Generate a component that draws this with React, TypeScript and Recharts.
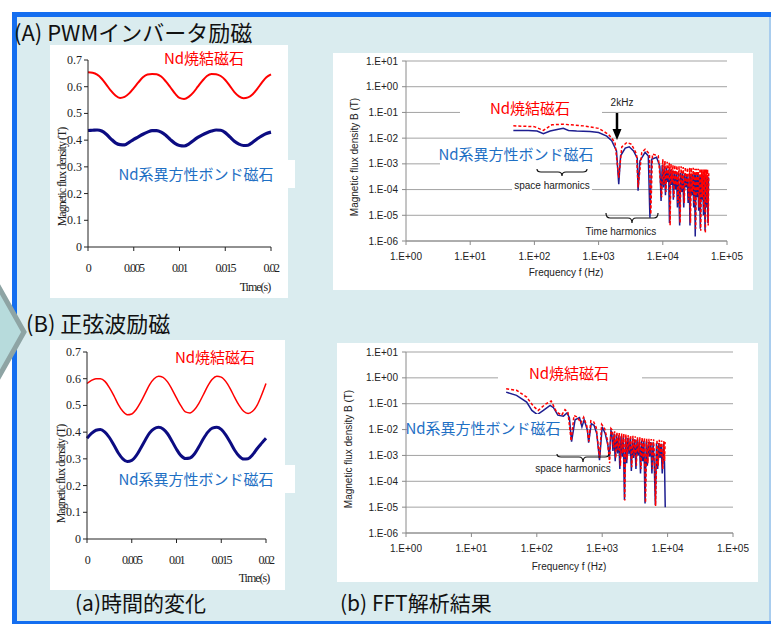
import React from 'react';
import { LineChart, Line, XAxis, YAxis, CartesianGrid } from 'recharts';

// ---- (a) time waveforms, sampled every 0.5 ms ----
const sampleTimes = [
  0, 0.0005, 0.001, 0.0015, 0.002, 0.0025, 0.003, 0.0035, 0.004, 0.0045,
  0.005, 0.0055, 0.006, 0.0065, 0.007, 0.0075, 0.008, 0.0085, 0.009, 0.0095,
  0.01, 0.0105, 0.011, 0.0115, 0.012, 0.0125, 0.013, 0.0135, 0.014, 0.0145,
  0.015, 0.0155, 0.016, 0.0165, 0.017, 0.0175, 0.018, 0.0185, 0.019, 0.0195, 0.02,
];

// PWM inverter excitation (T)
const pwmSintered = [
  0.654, 0.652, 0.645, 0.63, 0.608, 0.585, 0.567, 0.558, 0.562, 0.575,
  0.595, 0.616, 0.635, 0.646, 0.648, 0.647, 0.638, 0.62, 0.598, 0.575,
  0.558, 0.554, 0.562, 0.578, 0.6, 0.622, 0.64, 0.648, 0.647, 0.64,
  0.625, 0.603, 0.58, 0.564, 0.557, 0.56, 0.572, 0.592, 0.615, 0.635, 0.646,
];
const pwmBond = [
  0.436, 0.437, 0.438, 0.434, 0.422, 0.405, 0.39, 0.383, 0.382, 0.392,
  0.403, 0.412, 0.422, 0.43, 0.436, 0.436, 0.43, 0.418, 0.402, 0.388,
  0.38, 0.378, 0.385, 0.398, 0.41, 0.42, 0.428, 0.434, 0.438, 0.437,
  0.428, 0.412, 0.396, 0.385, 0.38, 0.381, 0.392, 0.405, 0.416, 0.425, 0.43,
];

// sine-wave excitation (T)
const sineSintered = [
  0.582, 0.594, 0.6, 0.6, 0.59, 0.567, 0.537, 0.503, 0.478, 0.465,
  0.468, 0.485, 0.512, 0.545, 0.578, 0.6, 0.609, 0.605, 0.588, 0.56,
  0.528, 0.498, 0.476, 0.472, 0.484, 0.508, 0.54, 0.573, 0.598, 0.609,
  0.606, 0.59, 0.563, 0.53, 0.5, 0.478, 0.47, 0.478, 0.5, 0.538, 0.582,
];
const sineBond = [
  0.377, 0.395, 0.407, 0.41, 0.4, 0.38, 0.352, 0.322, 0.3, 0.29,
  0.294, 0.312, 0.34, 0.37, 0.397, 0.413, 0.418, 0.412, 0.394, 0.366,
  0.336, 0.312, 0.301, 0.303, 0.318, 0.345, 0.375, 0.4, 0.415, 0.418,
  0.41, 0.39, 0.362, 0.332, 0.31, 0.299, 0.3, 0.315, 0.338, 0.358, 0.377,
];

// ---- (b) FFT spectra: [frequency Hz, B in T] ----
const pwmBondSpectrum = [
  [47, 0.02], [80, 0.02], [110, 0.019], [138, 0.015], [176, 0.019], [236, 0.022], [282, 0.024],
  [340, 0.02], [455, 0.019], [735, 0.018], [1000, 0.0166], [1340, 0.012], [1600, 0.0079],
  [1900, 0.0032], [2060, 1.6e-4], [2200, 2.05e-3], [2600, 4.1e-3], [3000, 4.6e-3], [3500, 3.2e-3],
  [4000, 1.65e-3], [4120, 9e-5], [4400, 1.3e-3], [5300, 2.8e-3], [5950, 2.0e-3], [6300, 8e-6],
  [6700, 1.5e-3], [8000, 1.8e-3], [9000, 8e-4], [9400, 3.6e-5],
  [9800, 9e-4], [10200, 1.2e-4], [10600, 8e-4], [11000, 6e-5], [11400, 7e-4], [11900, 2e-4],
  [12300, 6e-4], [12700, 5e-6], [13100, 6e-4], [13600, 1.5e-4], [14100, 5.5e-4], [14600, 4e-5],
  [15100, 5e-4], [15700, 1e-4], [16300, 5e-4], [16900, 2e-5], [17500, 4.5e-4], [18300, 4e-6],
  [19000, 4.5e-4], [19700, 8e-5], [20400, 4.5e-4], [21200, 2e-5], [22000, 4.2e-4], [22900, 1.2e-4],
  [23800, 4e-4], [24800, 3e-5], [25800, 4e-4], [26500, 4e-6], [27300, 4e-4], [28300, 6e-5],
  [29300, 4e-4], [30300, 2e-5], [31200, 4e-4], [32000, 1.5e-6], [32900, 4e-4], [34000, 5e-5],
  [35100, 3.8e-4], [36200, 1.5e-5], [37300, 3.8e-4], [38300, 3e-6], [39400, 3.8e-4], [40600, 4e-5],
  [41800, 3.8e-4], [43000, 1e-5], [44200, 3.6e-4], [45500, 2.5e-6], [46800, 3.6e-4], [48000, 2e-5],
  [49300, 3.5e-4], [50500, 5e-6], [51500, 3e-4],
];
const pwmSinteredSpectrum = [
  [47, 0.03], [100, 0.028], [138, 0.02], [187, 0.033], [282, 0.035], [580, 0.03], [1000, 0.024],
  [1430, 0.014], [1800, 0.0068], [2060, 2.9e-4], [2300, 4.6e-3], [2750, 6.8e-3], [3250, 5.8e-3],
  [3900, 2.4e-3], [4120, 1.2e-4], [4700, 2.8e-3], [5300, 3.7e-3], [6200, 2.4e-3], [6500, 1.1e-5],
  [6900, 2.4e-3], [8500, 2.05e-3], [9600, 5e-5],
  [10000, 1.5e-3], [10400, 1.5e-4], [10800, 1.3e-3], [11200, 8e-5], [11700, 1.2e-3], [12100, 2.5e-4],
  [12600, 1.1e-3], [13000, 4e-6], [13400, 1e-3], [13900, 2e-4], [14400, 9e-4], [14900, 5e-5],
  [15400, 9e-4], [16000, 1.5e-4], [16600, 8.5e-4], [17200, 3e-5], [17900, 8e-4], [18600, 5e-6],
  [19300, 8e-4], [20000, 1e-4], [20800, 7.5e-4], [21600, 3e-5], [22400, 7.5e-4], [23300, 1.5e-4],
  [24300, 7e-4], [25300, 4e-5], [26200, 7e-4], [27000, 5e-6], [27800, 7e-4], [28800, 8e-5],
  [29800, 7e-4], [30800, 3e-5], [31700, 6.5e-4], [32500, 3e-6], [33500, 6.5e-4], [34600, 7e-5],
  [35700, 6.5e-4], [36800, 2e-5], [37900, 6.5e-4], [39000, 2.5e-6], [40100, 6e-4], [41300, 5e-5],
  [42500, 6e-4], [43700, 1.5e-5], [44900, 6e-4], [46000, 2e-6], [47300, 6e-4], [48600, 3e-5],
  [49800, 6e-4], [51000, 4e-6], [52000, 5e-4],
];
const sineBondSpectrum = [
  [34, 0.28], [49, 0.21], [70, 0.116], [84, 0.055], [102, 0.038], [126, 0.055], [160, 0.086],
  [180, 0.07], [210, 0.036], [255, 0.033], [290, 0.044], [315, 0.029], [340, 3.4e-3], [385, 0.024],
  [450, 0.029], [490, 0.0127], [530, 0.024], [595, 9.4e-3], [620, 3.1e-3], [680, 0.017],
  [750, 0.0147], [825, 7.1e-3], [910, 6.6e-4], [1000, 0.0128], [1110, 7.1e-3], [1220, 2.5e-3],
  [1290, 9e-4], [1360, 9e-3],
  [1400, 8e-3], [1460, 1.5e-3], [1520, 7e-3], [1580, 6e-4], [1650, 6.5e-3], [1720, 1.2e-3],
  [1790, 6e-3], [1860, 3e-4], [1940, 5.5e-3], [2020, 9e-4], [2100, 5.5e-3], [2190, 1.9e-5],
  [2280, 5e-3], [2370, 5e-4], [2470, 4.8e-3], [2570, 1.1e-3], [2680, 4.5e-3], [2790, 2.5e-4],
  [2900, 4.5e-3], [3020, 8e-4], [3150, 4.2e-3], [3280, 3e-4], [3410, 4e-3], [3550, 1e-3],
  [3700, 4e-3], [3850, 2e-4], [4010, 3.8e-3], [4170, 6e-4], [4340, 3.6e-3], [4520, 1.4e-5],
  [4710, 3.5e-3], [4900, 4e-4], [5100, 3.4e-3], [5310, 9e-4], [5530, 3.3e-3], [5760, 2e-4],
  [6000, 3.2e-3], [6240, 5e-4], [6500, 1.2e-5], [6770, 3e-3], [7050, 3e-4], [7340, 3e-3],
  [7640, 8e-4], [7950, 2.8e-3], [8280, 2e-4], [8620, 2.8e-3], [8970, 5e-4], [9200, 1e-5],
];
const sineSinteredSpectrum = [
  [34, 0.38], [49, 0.33], [70, 0.18], [89, 0.079], [105, 0.055], [134, 0.094], [166, 0.127],
  [200, 0.048], [240, 0.036], [270, 0.059], [300, 0.045], [335, 3.6e-3], [370, 0.035], [420, 0.03],
  [470, 0.018], [520, 0.03], [580, 0.014], [625, 3.5e-3], [670, 0.022], [740, 0.02], [810, 0.012],
  [910, 8e-4], [980, 0.016], [1090, 0.011], [1200, 4e-3], [1300, 5e-4], [1360, 0.011],
  [1430, 9.5e-3], [1490, 2e-3], [1550, 8.5e-3], [1610, 8e-4], [1680, 8e-3], [1750, 1.6e-3],
  [1820, 7.5e-3], [1900, 4e-4], [1980, 7e-3], [2060, 1.2e-3], [2140, 7e-3], [2210, 1.8e-5],
  [2300, 6.5e-3], [2400, 7e-4], [2500, 6.2e-3], [2610, 1.5e-3], [2720, 6e-3], [2830, 3.5e-4],
  [2950, 5.8e-3], [3070, 1e-3], [3200, 5.5e-3], [3330, 4e-4], [3460, 5.2e-3], [3610, 1.3e-3],
  [3760, 5e-3], [3910, 3e-4], [4080, 5e-3], [4240, 8e-4], [4420, 4.8e-3], [4600, 1.5e-5],
  [4790, 4.5e-3], [4990, 5e-4], [5190, 4.4e-3], [5400, 1.2e-3], [5620, 4.3e-3], [5860, 3e-4],
  [6100, 4.2e-3], [6350, 7e-4], [6550, 1.1e-5], [6880, 4e-3], [7170, 4e-4], [7460, 4e-3],
  [7770, 1e-3], [8090, 3.8e-3], [8430, 3e-4], [8780, 3.6e-3], [9000, 6e-4], [9150, 3.3e-3],
];

const timeTicks = [0, 0.005, 0.01, 0.015, 0.02];
const fluxTicks = [0, 0.1, 0.2, 0.3, 0.4, 0.5, 0.6, 0.7];
const freqTicks = [1, 10, 100, 1000, 10000, 100000];
const densityTicks = [1e-6, 1e-5, 1e-4, 1e-3, 1e-2, 1e-1, 1, 10];

const SANS = '"Liberation Sans", Arial, sans-serif';
const SERIF = '"Liberation Serif", "Times New Roman", serif';
const JP = '"Noto Sans CJK JP", "Noto Sans", sans-serif';
const RED = '#ff0000';
const NAVY = '#0c0c82';
const LABEL_BLUE = '#1f70c4';

const toRows = (a: number[], b: number[]) => sampleTimes.map((t, i) => ({ t, sintered: a[i], bond: b[i] }));
const toPoints = (pairs: number[][]) => pairs.map(([f, b]) => ({ f, b }));

const sciLabel = (v: number) => {
  const e = Math.round(Math.log10(v));
  return `1.E${e < 0 ? '-' : '+'}${String(Math.abs(e)).padStart(2, '0')}`;
};

const SerifTickY = (props: any) => {
  const { x, y, payload } = props;
  return (
    <text x={x} y={y} dy={4} textAnchor="end" fontFamily={SERIF} fontSize={12} fill="#222">
      {String(payload.value)}
    </text>
  );
};

const SerifTickX = (props: any) => {
  const { x, y, payload } = props;
  return (
    <text x={x} y={y} dy={11} textAnchor="middle" fontFamily={SERIF} fontSize={12} letterSpacing={-1.5} fill="#222">
      {String(payload.value)}
    </text>
  );
};

function Txt({ x, y, children, size = 10, color = '#222', family = SANS, start = false, rotate = false, spacing = 0, weight = 400 }: any) {
  return (
    <div
      style={{
        position: 'absolute', left: x, top: y, whiteSpace: 'nowrap', lineHeight: 1,
        transform: `translate(${start ? '0' : '-50%'},-50%)${rotate ? ' rotate(-90deg)' : ''}`,
        fontSize: size, color, fontFamily: family, letterSpacing: spacing, fontWeight: weight,
      }}
    >
      {children}
    </div>
  );
}

const Box = ({ x, y, w, h }: any) => (
  <div style={{ position: 'absolute', left: x, top: y, width: w, height: h, background: '#fff' }} />
);

function TimeChart({ x, y, w, h, yw, mt, mr, rows, redW, blueW }: any) {
  return (
    <div style={{ position: 'absolute', left: x, top: y, width: w, height: h, background: '#fff' }}>
      <LineChart width={w} height={h} data={rows} margin={{ top: mt, right: mr, bottom: 0, left: 0 }}>
        <XAxis
          type="number" dataKey="t" domain={[0, 0.02]} ticks={timeTicks} height={51}
          tickSize={4} tickMargin={10} tick={<SerifTickX />}
          axisLine={{ stroke: '#222' }} tickLine={{ stroke: '#222' }}
        />
        <YAxis
          type="number" domain={[0, 0.7]} ticks={fluxTicks} width={yw}
          tickSize={4} tickMargin={2} tick={<SerifTickY />}
          axisLine={{ stroke: '#222' }} tickLine={{ stroke: '#222' }}
        />
        <Line type="monotone" dataKey="sintered" stroke={RED} strokeWidth={redW} dot={false} isAnimationActive={false} />
        <Line type="monotone" dataKey="bond" stroke={NAVY} strokeWidth={blueW} dot={false} isAnimationActive={false} />
      </LineChart>
    </div>
  );
}

function SpectrumChart({ x, y, w, h, yw, mt, mr, bond, sintered }: any) {
  const tickStyle = { fontSize: 10, fill: '#222', fontFamily: SANS };
  return (
    <div style={{ position: 'absolute', left: x, top: y, width: w, height: h, background: '#fff' }}>
      <LineChart width={w} height={h} margin={{ top: mt, right: mr, bottom: 0, left: 0 }}>
        <CartesianGrid vertical={false} stroke="#a3a3a3" />
        <XAxis
          type="number" dataKey="f" scale="log" domain={[1, 100000]} ticks={freqTicks}
          allowDataOverflow height={49} tickSize={4} tickMargin={8}
          tickFormatter={sciLabel} tick={tickStyle}
          axisLine={{ stroke: '#8a8a8a' }} tickLine={{ stroke: '#8a8a8a' }}
        />
        <YAxis
          type="number" scale="log" domain={[1e-6, 10]} ticks={densityTicks}
          allowDataOverflow width={yw} tickSize={4} tickMargin={4}
          tickFormatter={sciLabel} tick={tickStyle}
          axisLine={{ stroke: '#8a8a8a' }} tickLine={{ stroke: '#8a8a8a' }}
        />
        <Line data={bond} type="linear" dataKey="b" stroke="#1e1e90" strokeWidth={1.5} dot={false} isAnimationActive={false} />
        <Line data={sintered} type="linear" dataKey="b" stroke={RED} strokeWidth={1.5} strokeDasharray="3 2" dot={false} isAnimationActive={false} />
      </LineChart>
    </div>
  );
}

const brace = (x1: number, x2: number, yTop: number, yBar: number, yTip: number) => {
  const cx = (x1 + x2) / 2;
  return `M${x1},${yTop} Q${x1},${yBar} ${x1 + 4},${yBar} L${cx - 4},${yBar} Q${cx},${yBar} ${cx},${yTip} Q${cx},${yBar} ${cx + 4},${yBar} L${x2 - 4},${yBar} Q${x2},${yBar} ${x2},${yTop}`;
};

export default function App() {
  return (
    <div style={{ position: 'absolute', left: 0, top: 0, width: 771, height: 624, overflow: 'hidden', background: '#fff' }}>
      {/* frame */}
      <div style={{ position: 'absolute', left: 12, top: 12, width: 759, height: 612, background: '#146ef0' }} />
      <div style={{ position: 'absolute', left: 17, top: 17, width: 752, height: 604, background: '#daecef' }} />
      <div style={{ position: 'absolute', left: 769, top: 17, width: 2, height: 604, background: '#a9cdee' }} />

      <Txt x={14} y={31} size={22} family={JP} color="#111" start>(A) PWMインバータ励磁</Txt>
      <Txt x={26} y={322} size={22} family={JP} color="#111" start>(B) 正弦波励磁</Txt>
      <Txt x={75} y={602} size={21} family={JP} color="#111" start>(a)時間的変化</Txt>
      <Txt x={340} y={602} size={21} family={JP} color="#111" start>(b) FFT解析結果</Txt>

      {/* (A) time */}
      <TimeChart x={50} y={45} w={238} h={253} yw={38} mt={15} mr={17} rows={toRows(pwmSintered, pwmBond)} redW={2} blueW={3.2} />
      <Box x={115} y={160} w={180} h={28} />
      <Txt x={204} y={57} size={15} family={JP} color={RED}>Nd焼結磁石</Txt>
      <Txt x={196} y={173} size={15} family={JP} color={LABEL_BLUE}>Nd系異方性ボンド磁石</Txt>
      <Txt x={62} y={177} size={12} family={SERIF} spacing={-1} rotate>Magnetic flux density (T)</Txt>
      <Txt x={255} y={287} size={12} family={SERIF} spacing={-1}>Time(s)</Txt>

      {/* (B) time */}
      <TimeChart x={50} y={340} w={235} h={250} yw={37} mt={12} mr={19} rows={toRows(sineSintered, sineBond)} redW={1.5} blueW={3} />
      <Box x={115} y={465} w={180} h={28} />
      <Txt x={215} y={356} size={15} family={JP} color={RED}>Nd焼結磁石</Txt>
      <Txt x={196} y={478} size={15} family={JP} color={LABEL_BLUE}>Nd系異方性ボンド磁石</Txt>
      <Txt x={61} y={474} size={12} family={SERIF} spacing={-1} rotate>Magnetic flux density (T)</Txt>
      <Txt x={254} y={578} size={12} family={SERIF} spacing={-1}>Time(s)</Txt>

      {/* (A) spectrum */}
      <SpectrumChart x={333} y={53} w={420} h={237} yw={73} mt={8} mr={26} bond={toPoints(pwmBondSpectrum)} sintered={toPoints(pwmSinteredSpectrum)} />
      <Box x={460} y={93} w={142} h={28} />
      <Box x={440} y={141} w={160} h={29} />
      <Box x={512} y={179} w={80} h={15} />
      <Txt x={530} y={107} size={15} family={JP} color={RED}>Nd焼結磁石</Txt>
      <Txt x={516} y={153} size={15} family={JP} color={LABEL_BLUE}>Nd系異方性ボンド磁石</Txt>
      <Txt x={622} y={103}>2kHz</Txt>
      <Txt x={552} y={186}>space harmonics</Txt>
      <Txt x={621} y={232}>Time harmonics</Txt>
      <Txt x={566} y={273}>Frequency f (Hz)</Txt>
      <Txt x={355} y={157} rotate>Magnetic  flux density B (T)</Txt>

      {/* (B) spectrum */}
      <SpectrumChart x={337} y={343} w={421} h={239} yw={69} mt={9} mr={25} bond={toPoints(sineBondSpectrum)} sintered={toPoints(sineSinteredSpectrum)} />
      <Box x={498} y={362} w={144} h={23} />
      <Box x={407} y={414} w={149} h={26} />
      <Txt x={569} y={372} size={15} family={JP} color={RED}>Nd焼結磁石</Txt>
      <Txt x={483} y={427} size={15} family={JP} color={LABEL_BLUE}>Nd系異方性ボンド磁石</Txt>
      <Txt x={573} y={469}>space harmonics</Txt>
      <Txt x={569} y={567}>Frequency f (Hz)</Txt>
      <Txt x={349} y={449} rotate>Magnetic  flux density B (T)</Txt>

      <svg width={771} height={624} style={{ position: 'absolute', left: 0, top: 0, pointerEvents: 'none' }}>
        <path d={brace(537, 587, 169, 172, 176)} fill="none" stroke="#111" strokeWidth={1.2} />
        <path d={brace(606, 658, 213, 218, 223)} fill="none" stroke="#111" strokeWidth={1.2} />
        <path d={brace(557, 609, 454, 457, 462)} fill="none" stroke="#111" strokeWidth={1.2} />
        <line x1={617} y1={113} x2={617} y2={131} stroke="#000" strokeWidth={2.5} />
        <polygon points="612.5,129 621.5,129 617,140" fill="#000" />
        <polygon points="-12,268 24,332 -12,396" fill="#b7dbdc" stroke="#8ea4a4" strokeWidth={5} />
      </svg>
    </div>
  );
}
